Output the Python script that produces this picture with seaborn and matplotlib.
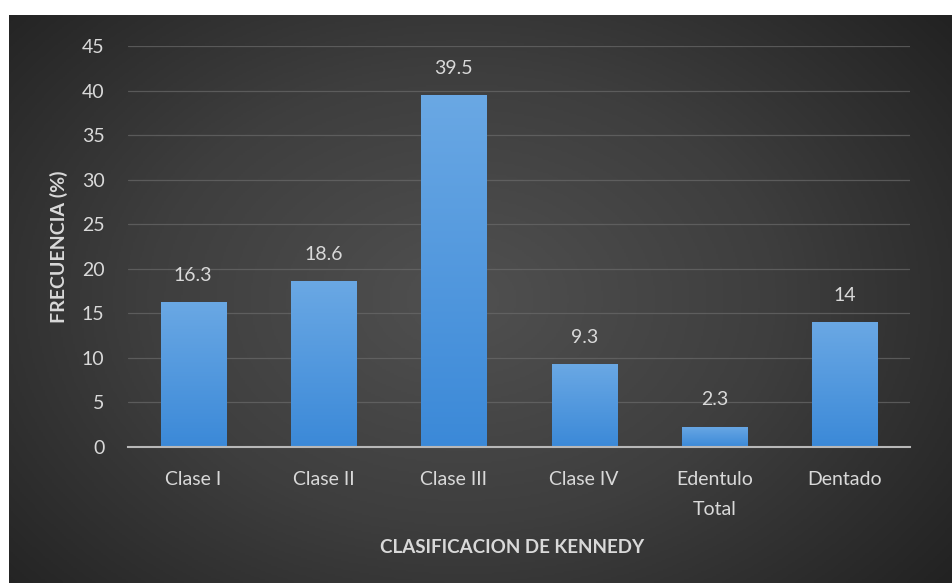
import numpy as np
import pandas as pd
import matplotlib.pyplot as plt
import seaborn as sns
from matplotlib.colors import LinearSegmentedColormap

# ── Data ─────────────────────────────────────────────────────────────────────
categorias = ["Clase I", "Clase II", "Clase III", "Clase IV", "Edentulo\nTotal", "Dentado"]
frecuencia = [16.3, 18.6, 39.5, 9.3, 2.3, 14]
etiquetas = ["16.3", "18.6", "39.5", "9.3", "2.3", "14"]
y_ticks = [0, 5, 10, 15, 20, 25, 30, 35, 40, 45]

df = pd.DataFrame({"clase": categorias, "frecuencia": frecuencia})

# ── Style ────────────────────────────────────────────────────────────────────
sns.set_theme(style="dark")
plt.rcParams["font.family"] = ["Lato", "DejaVu Sans"]
TXT = "#d9d9d9"
FS = 14

fig = plt.figure(figsize=(9.52, 5.83), dpi=100)
fig.patch.set_facecolor("white")

# dark radial background (starts a few px in from the left/top edges)
bg = fig.add_axes([9 / 952, 0, 1 - 9 / 952, 1 - 15 / 583], zorder=-10)
yy, xx = np.mgrid[0:1:300j, 0:1:500j]
r = np.sqrt(((xx - 0.48) / 0.75) ** 2 + ((yy - 0.5) / 0.9) ** 2)
bg_cmap = LinearSegmentedColormap.from_list("bg", ["#505050", "#3e3e3e", "#222222"])
bg.imshow(np.clip(r, 0, 1), cmap=bg_cmap, aspect="auto", extent=[0, 1, 0, 1])
bg.set_axis_off()

ax = fig.add_axes([128 / 952, 1 - 447 / 583, (910 - 128) / 952, (447 - 46) / 583])
ax.patch.set_alpha(0)

sns.barplot(data=df, x="clase", y="frecuencia", color="#5b9bd5", width=0.5,
            saturation=1, ax=ax, zorder=3)

# vertical gradient on each bar
bar_cmap = LinearSegmentedColormap.from_list("bar", ["#3b89d8", "#6aa8e4"])
grad = np.linspace(0, 1, 256).reshape(-1, 1)
for p in ax.patches:
    x0, y0 = p.get_x(), p.get_y()
    w, h = p.get_width(), p.get_height()
    im = ax.imshow(grad, cmap=bar_cmap, origin="lower", aspect="auto",
                   extent=[x0, x0 + w, y0, y0 + h], zorder=4)
    im.set_clip_path(p)
    p.set_edgecolor("#2b4f78")
    p.set_linewidth(0.8)

for i, (v, t) in enumerate(zip(frecuencia, etiquetas)):
    ax.annotate(t, (i, v), xytext=(0, 13), textcoords="offset points",
                ha="center", va="bottom", color=TXT, fontsize=FS)

ax.set_xlim(-0.5, len(categorias) - 0.5)
ax.set_ylim(0, 45)
ax.set_yticks(y_ticks)
ax.yaxis.grid(True, color="#6a6a6a", linewidth=0.9, alpha=0.7)
ax.xaxis.grid(False)
ax.set_axisbelow(True)
for s in ["top", "right", "left"]:
    ax.spines[s].set_visible(False)
ax.spines["bottom"].set_color("#b8b8b8")
ax.spines["bottom"].set_linewidth(1.5)
ax.spines["bottom"].set_zorder(6)

ax.tick_params(axis="both", colors=TXT, labelsize=FS, length=0)
ax.tick_params(axis="y", pad=17)
ax.tick_params(axis="x", pad=17)

ax.set_xlabel("CLASIFICACION DE KENNEDY", color=TXT, fontsize=13.5,
              fontweight="bold", labelpad=15)
ax.xaxis.label.set_x(0.491)
ax.set_ylabel("FRECUENCIA (%)", color=TXT, fontsize=FS,
              fontweight="bold", labelpad=10)

# wider gap between the two lines of "Edentulo / Total"
fig.canvas.draw()
for lbl in ax.get_xticklabels():
    lbl.set_linespacing(1.95)

fig.savefig("out.png", dpi=100)
